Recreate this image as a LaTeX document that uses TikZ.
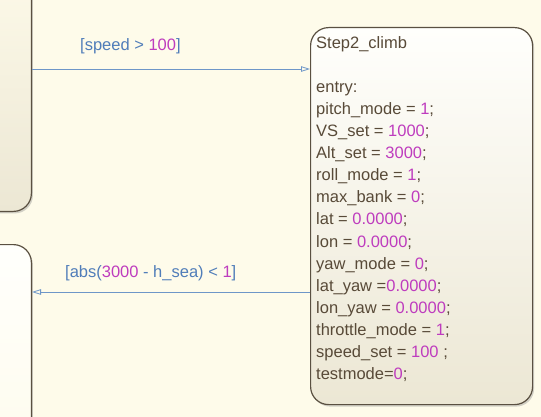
\documentclass[tikz,border=0pt]{standalone}
\usepackage{fontspec}
\setmainfont{Liberation Sans}
\usetikzlibrary{arrows.meta, positioning, shadows}

\definecolor{chartbg}{RGB}{254,251,234}
\definecolor{statetext}{RGB}{88,74,56}
\definecolor{statenum}{RGB}{190,60,190}
\definecolor{translabel}{RGB}{80,125,185}
\definecolor{transline}{RGB}{110,150,200}
\definecolor{stateedge}{RGB}{90,80,65}
\definecolor{statetop}{RGB}{255,255,252}
\definecolor{statebot}{RGB}{236,231,212}

\newcommand{\nv}[1]{\textcolor{statenum}{#1}}

\tikzset{
  chartstate/.style={draw=stateedge, line width=1.2pt, rounded corners=18pt,
    top color=statetop, bottom color=statebot, inner sep=0pt,
    drop shadow={opacity=0.35, shadow xshift=1.5pt, shadow yshift=-2pt}},
  statelines/.style={anchor=north west, align=left, inner sep=0pt,
    text=statetext, font=\fontsize{16.5}{22.1}\selectfont},
  guard/.style={anchor=base west, inner sep=0pt, text=translabel,
    font=\fontsize{16.5}{20}\selectfont},
  trans/.style={draw=transline, line width=0.8pt,
    -{Triangle[open, length=9pt, width=5.5pt]}}
}

\begin{document}
\begin{tikzpicture}[x=1pt, y=-1pt]
  \clip (0,0) rectangle (541,417);
  \fill[chartbg] (0,0) rectangle (541,417);

  % states
  \node[chartstate, anchor=south east, minimum width=80pt, minimum height=260pt,
        top color=chartbg, bottom color=statebot] (prev) at (32,212) {};
  \node[chartstate, anchor=north east, minimum width=80pt, minimum height=260pt,
        top color=statetop, bottom color=chartbg] (next) at (32,244) {};
  \node[chartstate, anchor=north west, minimum width=222pt, minimum height=377pt] (climb) at (310,27) {};

  \node[statelines] (climbtxt) at (316,36) {%
    Step2\_climb\\
    \\
    entry:\\
    pitch\_mode = \nv{1};\\
    VS\_set = \nv{1000};\\
    Alt\_set = \nv{3000};\\
    roll\_mode = \nv{1};\\
    max\_bank = \nv{0};\\
    lat = \nv{0.0000};\\
    lon = \nv{0.0000};\\
    yaw\_mode = \nv{0};\\
    lat\_yaw =\nv{0.0000};\\
    lon\_yaw = \nv{0.0000};\\
    throttle\_mode = \nv{1};\\
    speed\_set = \nv{100} ;\\
    testmode=\nv{0};};

  % transitions
  \coordinate (t1) at (0,69);
  \coordinate (t2) at (0,292);
  \draw[trans] (prev.east |- t1) -- (climb.west |- t1);
  \draw[trans] (climb.west |- t2) -- (next.east |- t2);

  \node[guard] (g1) at (80,51) {[speed > \nv{100}]};
  \node[guard] (g2) at (65,277) {[abs(\nv{3000} - h\_sea) < \nv{1}]};
\end{tikzpicture}
\end{document}
